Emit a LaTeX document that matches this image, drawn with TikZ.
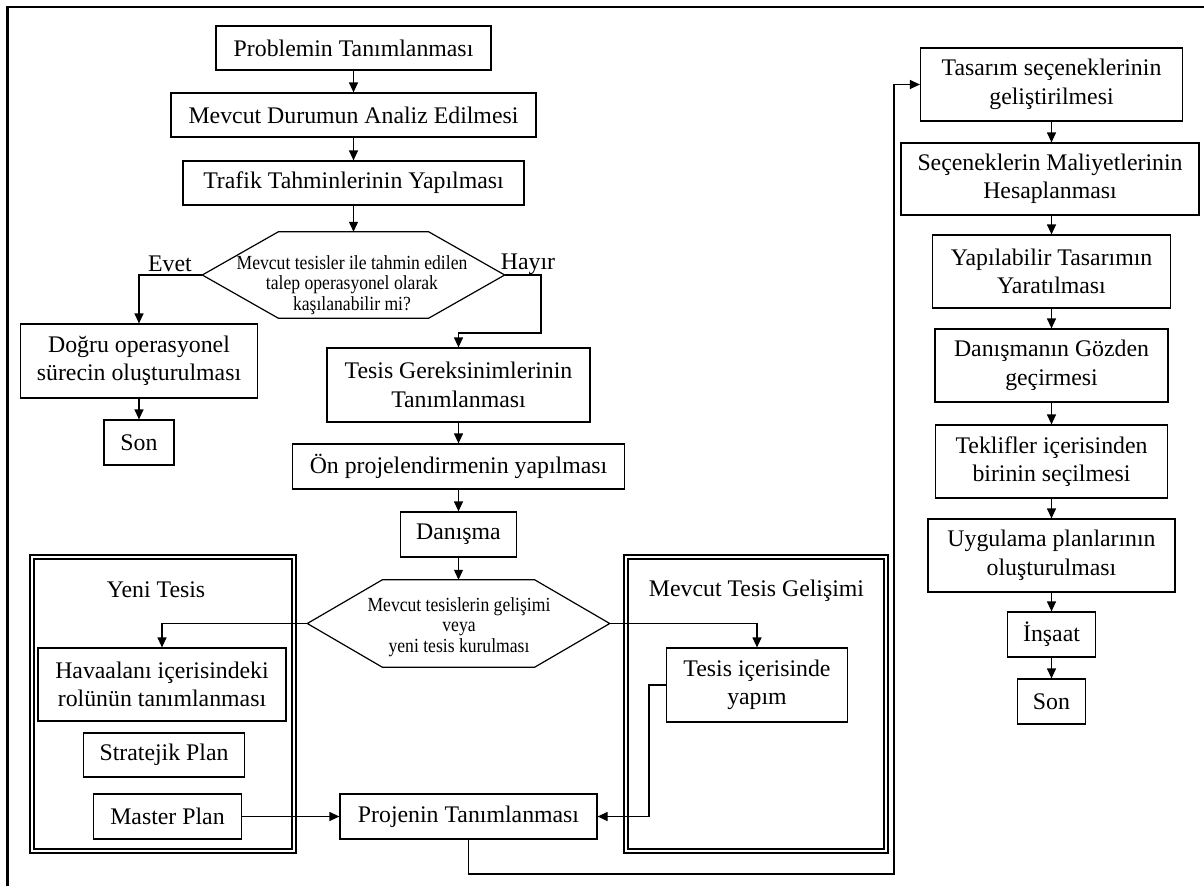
\documentclass[tikz,border=0pt]{standalone}
\usepackage{fontspec}
\setmainfont{Liberation Serif}
\newfontfamily\condfont[FakeStretch=0.88]{Liberation Serif}
\usetikzlibrary{arrows.meta,calc}
\newcommand\mainfs{\fontsize{23.8}{28.5}\selectfont}
\newcommand\hexfs{\condfont\fontsize{20}{20.5}\selectfont}
\begin{document}
\begin{tikzpicture}[x=1pt,y=-1pt,
  boxline/.style={line width=1.2pt},
  box/.style={draw,boxline,inner sep=0pt,align=center,font=\mainfs},
  hexbox/.style={inner sep=0pt,align=center},
  hextext/.style={inner sep=0pt,align=center,font=\hexfs},
  lbl/.style={inner sep=0pt,font=\mainfs},
  arr/.style={line width=1.2pt,-{Triangle[length=10pt,width=9pt]}},
  frameo/.style={line width=1.1pt},
  framei/.style={line width=2.4pt},
  pageframe/.style={line width=2.6pt}]
\useasboundingbox (0,0) rectangle (1204,886);
\draw[pageframe] (7.5,886) -- (7.5,7) -- (1204,7);

% left/central chain
\node[box,minimum width=275pt,minimum height=44pt] (p1) at (353.5,48) {Problemin Tanımlanması};
\node[box,minimum width=365pt,minimum height=44pt] (p2) at (353.5,115) {Mevcut Durumun Analiz Edilmesi};
\node[box,minimum width=341pt,minimum height=44pt] (p3) at (353.5,183) {Trafik Tahminlerinin Yapılması};
\node[hexbox,minimum width=302pt,minimum height=86pt] (d1) at (353.5,275) {};
\draw[boxline] (d1.west) -- ([xshift=76pt]d1.north west) -- ([xshift=-76pt]d1.north east) -- (d1.east) -- ([xshift=-76pt]d1.south east) -- ([xshift=76pt]d1.south west) -- cycle;
\node[hextext] (d1t) at (352,285) {Mevcut tesisler ile tahmin edilen\\talep operasyonel olarak\\kaşılanabilir mi?};
\node[lbl] (evet) at (170,264) {Evet};
\node[lbl] (hayir) at (528,264) {Hayır};
\node[box,minimum width=237pt,minimum height=74pt] (dogru) at (139,361) {Doğru operasyonel\\sürecin oluşturulması};
\node[box,minimum width=70pt,minimum height=45pt] (son1) at (139,442.5) {Son};
\node[box,minimum width=263pt,minimum height=74pt] (tg) at (458.5,385) {Tesis Gereksinimlerinin\\Tanımlanması};
\node[box,minimum width=332pt,minimum height=45pt] (on) at (458.5,466.5) {Ön projelendirmenin yapılması};
\node[box,minimum width=116pt,minimum height=45pt] (dan1) at (458.5,534.5) {Danışma};
\node[hexbox,minimum width=302pt,minimum height=87pt] (d2) at (458.5,623.5) {};
\draw[boxline] (d2.west) -- ([xshift=75pt]d2.north west) -- ([xshift=-75pt]d2.north east) -- (d2.east) -- ([xshift=-75pt]d2.south east) -- ([xshift=75pt]d2.south west) -- cycle;
\node[hextext] (d2t) at (459,627) {Mevcut tesislerin gelişimi\\veya\\yeni tesis kurulması};

% frames
\draw[frameo] (30,555) rectangle (296,853);
\draw[framei] (34,559) rectangle (292,849);
\draw[frameo] (624,555) rectangle (888,853);
\draw[framei] (628,559) rectangle (884,849);
\node[lbl] (yt) at (156,590) {Yeni Tesis};
\node[lbl] (mt) at (756.5,591) {Mevcut Tesis Gelişimi};

\node[box,minimum width=248pt,minimum height=73pt] (hav) at (162,684.5) {Havaalanı içerisindeki\\rolünün tanımlanması};
\node[box,minimum width=161pt,minimum height=44pt] (strat) at (164,755) {Stratejik Plan};
\node[box,minimum width=148pt,minimum height=45pt] (master) at (167.5,816.5) {Master Plan};
\node[box,minimum width=257pt,minimum height=45pt] (proj) at (468.5,816.5) {Projenin Tanımlanması};
\node[box,minimum width=181pt,minimum height=74pt] (tic) at (757,685) {Tesis içerisinde\\yapım};

% right column
\node[box,minimum width=262pt,minimum height=73pt] (tas) at (1051.5,84.5) {Tasarım seçeneklerinin\\geliştirilmesi};
\node[box,minimum width=298pt,minimum height=72pt] (sec) at (1050,179) {Seçeneklerin Maliyetlerinin\\Hesaplanması};
\node[box,minimum width=238pt,minimum height=73pt] (yap) at (1051.5,271.5) {Yapılabilir Tasarımın\\Yaratılması};
\node[box,minimum width=233pt,minimum height=73pt] (dgz) at (1051.5,365.5) {Danışmanın Gözden\\geçirmesi};
\node[box,minimum width=232pt,minimum height=73pt] (tek) at (1051.5,461.5) {Teklifler içerisinden\\birinin seçilmesi};
\node[box,minimum width=247pt,minimum height=73pt] (uyg) at (1051.5,555.5) {Uygulama planlarının\\oluşturulması};
\node[box,minimum width=88pt,minimum height=45pt] (ins) at (1051.5,634.5) {İnşaat};
\node[box,minimum width=68pt,minimum height=45pt] (son2) at (1051.5,701.5) {Son};

% helper coordinates
\coordinate (hy) at (541,333);
\coordinate (tc) at (649,0);
\coordinate (lp) at (894,874);

% connectors
\draw[arr] (p1) -- (p2);
\draw[arr] (p2) -- (p3);
\draw[arr] (p3) -- (d1);
\draw[arr] (d1.west) -| (dogru.north);
\draw[arr] (dogru) -- (son1);
\draw[arr] (d1.east) -| (hy) -| (tg.north);
\draw[arr] (tg) -- (on);
\draw[arr] (on) -- (dan1);
\draw[arr] (dan1) -- (d2);
\draw[arr] (d2.west) -| (hav.north);
\draw[arr] (d2.east) -| (tic.north);
\draw[arr] (tic.west) -- (tic.west -| tc) |- (proj.east);
\draw[arr] (master.east) -- (proj.west);
\draw[arr] (proj.south) |- (lp) |- (tas.west);
\draw[arr] (tas.south) -- (tas.south |- sec.north);
\draw[arr] (sec.south -| tas.south) -- (tas.south |- yap.north);
\draw[arr] (yap) -- (dgz);
\draw[arr] (dgz) -- (tek);
\draw[arr] (tek) -- (uyg);
\draw[arr] (uyg) -- (ins);
\draw[arr] (ins) -- (son2);
\end{tikzpicture}
\end{document}
